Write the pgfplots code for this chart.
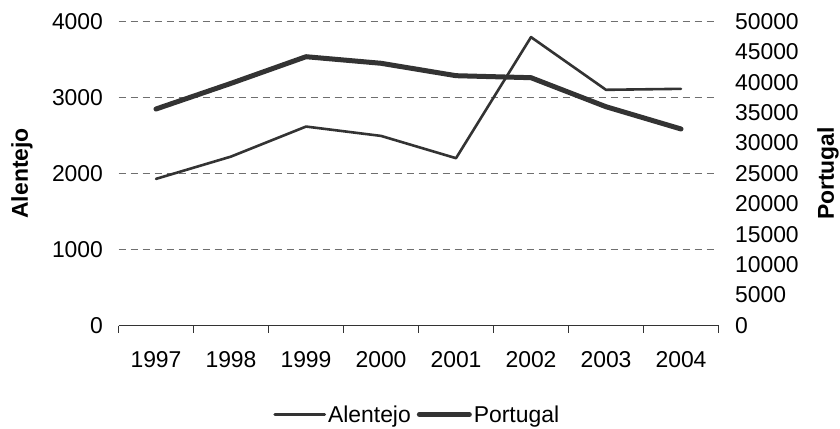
\documentclass[border=0pt]{standalone}
\usepackage{pgfplots}
\pgfplotsset{compat=1.18}
\usepackage{fontspec}
\setmainfont{Liberation Sans}
\definecolor{ln}{HTML}{333333}
\definecolor{gr}{HTML}{6F6F6F}
\pgfplotsset{
  common/.style={
    at={(118.5bp,102.5bp)}, anchor=south west,
    scale only axis, width=600bp, height=304.2bp,
    xmin=0, xmax=8,
    font=\fontsize{23}{27}\selectfont,
    ticklabel style={font=\fontsize{23}{27}\selectfont},
    label style={font=\fontsize{23}{27}\selectfont\bfseries},
    /pgf/number format/assume math mode=true,
    /pgf/number format/1000 sep={},
    scaled y ticks=false,
    major tick length=0bp,
    clip=false,
  },
  alstyle/.style={color=ln, line width=2.6bp, line cap=round, line join=round},
  ptstyle/.style={color=ln, line width=5bp, line cap=round, line join=round},
  mylegimg/.style={legend image code/.code={\draw[##1] (0bp,0bp) -- (50bp,0bp);}},
}
\begin{document}
\begin{tikzpicture}[x=1bp,y=1bp]
\path[use as bounding box] (0,0) rectangle (840,428);
\begin{axis}[common,
  ymin=0, ymax=4000, ytick={0,1000,...,4000},
  axis x line*=bottom, axis y line*=left,
  y axis line style={draw=none},
  x axis line style={color=ln, line width=1bp, -},
  xtick={0.5,1.5,...,7.5},
  xticklabels={1997,1998,1999,2000,2001,2002,2003,2004},
  minor xtick={0,1,...,8},
  minor tick length=7bp, tick align=outside,
  minor x tick style={color=ln, line width=1bp},
  ymajorgrids,
  major grid style={color=gr, dash pattern=on 7bp off 5bp, line width=0.9bp},
  ylabel={Alentejo},
  ylabel style={at={(axis description cs:-0.1608,0.5)}, anchor=center},
  yticklabel style={anchor=east, xshift=-12bp},
  xticklabel style={anchor=north, yshift=-22bp},
]
\addplot[alstyle] coordinates {
  (0.5,1928) (1.5,2221) (2.5,2616) (3.5,2493) (4.5,2200) (5.5,3792) (6.5,3099) (7.5,3112)
};
\end{axis}
\begin{axis}[common,
  ymin=0, ymax=50000, ytick={0,5000,...,50000},
  axis x line=none, axis y line*=right,
  y axis line style={draw=none},
  ylabel={Portugal},
  ylabel style={at={(axis description cs:1.1825,0.5)}, anchor=center, rotate=0},
  yticklabel style={anchor=west, xshift=13bp},
  mylegimg,
  legend style={draw=none, fill=none, at={(axis description cs:0.498,-0.2926)}, anchor=center,
    legend columns=-1, font=\fontsize{23}{27}\selectfont,
    /tikz/every even column/.append style={column sep=4bp},
    nodes={inner sep=2bp}},
  legend cell align=left,
]
\addlegendimage{alstyle}
\addlegendentry{Alentejo}
\addplot[ptstyle] coordinates {
  (0.5,35585) (1.5,39800) (2.5,44180) (3.5,43100) (4.5,41060) (5.5,40730) (6.5,35960) (7.5,32300)
};
\addlegendentry{Portugal}
\end{axis}
\end{tikzpicture}
\end{document}
